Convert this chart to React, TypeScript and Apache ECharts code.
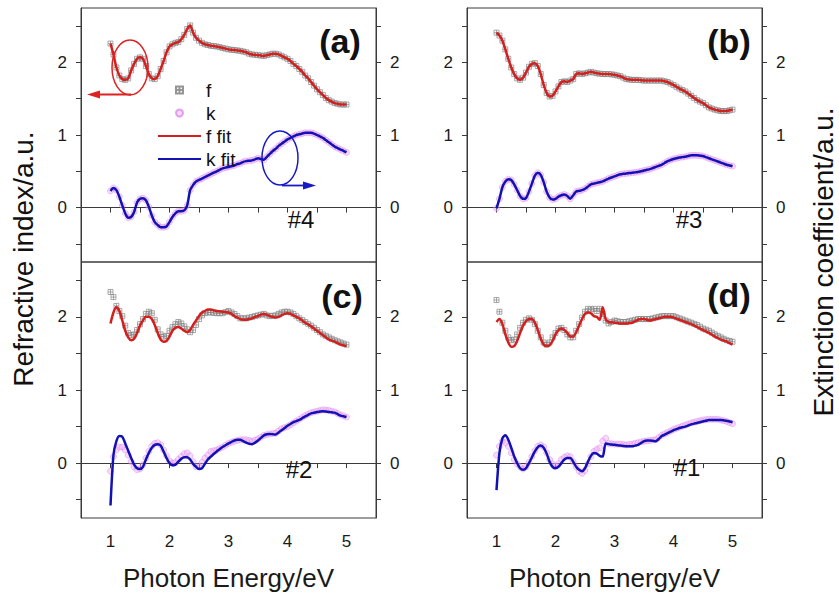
import React, { useEffect, useRef } from "react";
import * as echarts from "echarts";

// Photon energy (eV) sampling of every measured / fitted curve
const energy = [
  1.0, 1.05, 1.1, 1.15, 1.2, 1.25, 1.3, 1.35, 1.4, 1.45, 1.5, 1.55, 1.6, 1.65, 1.7, 1.75, 1.8, 1.85, 1.9, 1.95,
  2.0, 2.05, 2.1, 2.15, 2.2, 2.25, 2.3, 2.35, 2.4, 2.45, 2.5, 2.55, 2.6, 2.65, 2.7, 2.75, 2.8, 2.85, 2.9, 2.95,
  3.0, 3.05, 3.1, 3.15, 3.2, 3.25, 3.3, 3.35, 3.4, 3.45, 3.5, 3.55, 3.6, 3.65, 3.7, 3.75, 3.8, 3.85, 3.9, 3.95,
  4.0, 4.05, 4.1, 4.15, 4.2, 4.25, 4.3, 4.35, 4.4, 4.45, 4.5, 4.55, 4.6, 4.65, 4.7, 4.75, 4.8, 4.85, 4.9, 4.95, 5.0,
];

// (a) sample #4
const fA = [
  2.26, 2.11, 1.93, 1.82, 1.77, 1.76, 1.78, 1.89, 1.98, 2.05, 2.07, 2.05, 1.95, 1.84, 1.78, 1.77, 1.81, 1.91, 2.02, 2.14,
  2.22, 2.25, 2.27, 2.28, 2.32, 2.38, 2.46, 2.51, 2.41, 2.34, 2.3, 2.27, 2.25, 2.24, 2.23, 2.225, 2.22, 2.21, 2.2, 2.19,
  2.18, 2.175, 2.17, 2.165, 2.16, 2.15, 2.14, 2.12, 2.11, 2.105, 2.1, 2.095, 2.09, 2.1, 2.11, 2.12, 2.12, 2.11, 2.09, 2.07,
  2.05, 2.02, 1.98, 1.95, 1.91, 1.87, 1.82, 1.78, 1.73, 1.68, 1.63, 1.59, 1.55, 1.51, 1.48, 1.46, 1.44, 1.43, 1.42, 1.42, 1.42,
];
const kA = [
  0.23, 0.27, 0.24, 0.15, 0.03, -0.08, -0.14, -0.13, -0.06, 0.07, 0.12, 0.13, 0.1, 0.01, -0.11, -0.2, -0.24, -0.27, -0.27, -0.26,
  -0.2, -0.13, -0.08, -0.05, -0.05, -0.04, 0.03, 0.24, 0.31, 0.36, 0.38, 0.4, 0.42, 0.44, 0.46, 0.48, 0.5, 0.52, 0.54, 0.55,
  0.56, 0.57, 0.58, 0.6, 0.61, 0.63, 0.64, 0.645, 0.65, 0.665, 0.68, 0.67, 0.66, 0.7, 0.74, 0.78, 0.81, 0.85, 0.88, 0.91,
  0.94, 0.96, 0.98, 1.0, 1.01, 1.02, 1.03, 1.03, 1.03, 1.02, 1.0, 0.98, 0.96, 0.93, 0.9, 0.87, 0.84, 0.82, 0.8, 0.78, 0.76,
];
const fFitA = fA;
const kFitA = kA;

// (b) sample #3
const fB = [
  2.41, 2.37, 2.3, 2.18, 2.05, 1.93, 1.84, 1.78, 1.76, 1.79, 1.86, 1.94, 1.98, 1.99, 1.95, 1.84, 1.69, 1.58, 1.53, 1.54,
  1.6, 1.67, 1.73, 1.74, 1.73, 1.75, 1.77, 1.84, 1.85, 1.84, 1.85, 1.86, 1.87, 1.86, 1.85, 1.845, 1.84, 1.84, 1.84, 1.835,
  1.83, 1.82, 1.81, 1.79, 1.77, 1.765, 1.76, 1.76, 1.76, 1.755, 1.75, 1.75, 1.75, 1.75, 1.75, 1.75, 1.75, 1.74, 1.73, 1.71,
  1.69, 1.665, 1.64, 1.62, 1.6, 1.57, 1.54, 1.51, 1.48, 1.46, 1.44, 1.41, 1.38, 1.365, 1.35, 1.34, 1.33, 1.33, 1.33, 1.34, 1.35,
];
const kB = [
  -0.01, 0.12, 0.28, 0.36, 0.39, 0.38, 0.32, 0.24, 0.16, 0.12, 0.13, 0.22, 0.33, 0.44, 0.48, 0.45, 0.35, 0.22, 0.14, 0.11,
  0.12, 0.15, 0.17, 0.18, 0.16, 0.12, 0.17, 0.22, 0.23, 0.24, 0.26, 0.29, 0.32, 0.33, 0.34, 0.35, 0.36, 0.38, 0.4, 0.415,
  0.43, 0.445, 0.46, 0.465, 0.47, 0.475, 0.48, 0.485, 0.49, 0.5, 0.51, 0.52, 0.53, 0.545, 0.56, 0.575, 0.59, 0.615, 0.64, 0.655,
  0.67, 0.68, 0.69, 0.695, 0.7, 0.71, 0.72, 0.72, 0.72, 0.715, 0.71, 0.695, 0.68, 0.665, 0.65, 0.635, 0.62, 0.605, 0.59, 0.58, 0.57,
];
const fFitB = fB;
const kFitB = kB;

// (c) sample #2
const fC = [
  2.34, 2.27, 2.15, 2.08, 2.01, 1.88, 1.78, 1.75, 1.76, 1.82, 1.9, 1.97, 2.04, 2.07, 2.05, 1.96, 1.83, 1.76, 1.73, 1.74,
  1.81, 1.86, 1.9, 1.93, 1.91, 1.87, 1.83, 1.79, 1.82, 1.89, 1.97, 2.02, 2.05, 2.06, 2.06, 2.055, 2.05, 2.05, 2.05, 2.065,
  2.08, 2.06, 2.04, 2.01, 1.98, 1.98, 1.98, 1.99, 2.0, 2.01, 2.02, 2.03, 2.04, 2.02, 2.01, 2.015, 2.02, 2.04, 2.06, 2.07,
  2.07, 2.06, 2.04, 2.01, 1.98, 1.955, 1.93, 1.905, 1.88, 1.85, 1.82, 1.79, 1.76, 1.74, 1.72, 1.7, 1.68, 1.665, 1.65, 1.635, 1.62,
];
const kC = [
  -0.11, 0.09, 0.18, 0.22, 0.22, 0.18, 0.11, 0.02, -0.05, -0.09, -0.08, -0.02, 0.07, 0.16, 0.23, 0.27, 0.28, 0.25, 0.18, 0.1,
  0.03, 0.0, 0.01, 0.05, 0.09, 0.13, 0.14, 0.1, 0.02, -0.05, -0.05, 0.01, 0.07, 0.11, 0.16, 0.17, 0.18, 0.2, 0.22, 0.245,
  0.27, 0.285, 0.3, 0.31, 0.32, 0.32, 0.32, 0.31, 0.3, 0.315, 0.33, 0.355, 0.38, 0.39, 0.4, 0.405, 0.41, 0.44, 0.47, 0.485,
  0.5, 0.525, 0.55, 0.575, 0.6, 0.625, 0.65, 0.67, 0.69, 0.7, 0.71, 0.72, 0.73, 0.725, 0.72, 0.71, 0.7, 0.68, 0.66, 0.645, 0.63,
];
const fFitC = [
  1.91, 2.06, 2.13, 2.08, 1.95, 1.81, 1.72, 1.68, 1.7, 1.78, 1.88, 1.95, 2.0, 2.0, 1.97, 1.89, 1.78, 1.69, 1.66, 1.67,
  1.73, 1.81, 1.85, 1.86, 1.84, 1.81, 1.79, 1.82, 1.89, 1.95, 2.01, 2.06, 2.08, 2.1, 2.1, 2.09, 2.08, 2.075, 2.07, 2.065,
  2.06, 2.04, 2.01, 1.99, 1.97, 1.96, 1.96, 1.97, 1.98, 2.0, 2.01, 2.03, 2.04, 2.03, 2.01, 2.0, 1.99, 2.0, 2.02, 2.04,
  2.05, 2.04, 2.02, 2.0, 1.98, 1.95, 1.92, 1.895, 1.87, 1.84, 1.81, 1.78, 1.75, 1.72, 1.69, 1.675, 1.66, 1.64, 1.62, 1.61, 1.6,
];
const kFitC = [
  -0.58, 0.11, 0.3, 0.37, 0.36, 0.27, 0.17, 0.07, -0.02, -0.07, -0.08, -0.05, 0.05, 0.14, 0.21, 0.25, 0.26, 0.24, 0.16, 0.07,
  0.0, -0.03, -0.02, 0.02, 0.06, 0.08, 0.08, 0.05, -0.01, -0.05, -0.08, -0.07, -0.01, 0.05, 0.09, 0.125, 0.16, 0.19, 0.22, 0.245,
  0.27, 0.29, 0.31, 0.32, 0.32, 0.3, 0.28, 0.265, 0.26, 0.28, 0.31, 0.345, 0.38, 0.395, 0.4, 0.395, 0.39, 0.42, 0.45, 0.48,
  0.51, 0.535, 0.56, 0.575, 0.59, 0.615, 0.64, 0.66, 0.68, 0.69, 0.7, 0.705, 0.71, 0.705, 0.7, 0.695, 0.69, 0.67, 0.65, 0.64, 0.63,
];

// (d) sample #1
const fD = [
  2.23, 2.07, 1.92, 1.81, 1.72, 1.68, 1.69, 1.76, 1.85, 1.92, 1.96, 1.98, 1.96, 1.9, 1.81, 1.72, 1.65, 1.62, 1.65, 1.72,
  1.78, 1.84, 1.85, 1.82, 1.76, 1.72, 1.72, 1.81, 1.9, 1.99, 2.07, 2.11, 2.1, 2.11, 2.08, 2.11, 2.04, 1.95, 1.91, 1.93,
  1.95, 1.94, 1.93, 1.93, 1.93, 1.94, 1.95, 1.96, 1.97, 1.97, 1.97, 1.97, 1.97, 1.98, 1.99, 2.0, 2.01, 2.01, 2.01, 2.01,
  2.01, 1.995, 1.98, 1.965, 1.95, 1.935, 1.92, 1.905, 1.89, 1.865, 1.84, 1.825, 1.81, 1.785, 1.76, 1.74, 1.72, 1.7, 1.68, 1.67, 1.66,
];
const kD = [
  0.11, 0.23, 0.3, 0.28, 0.23, 0.14, 0.05, -0.01, -0.05, -0.08, -0.05, 0.01, 0.09, 0.17, 0.23, 0.25, 0.22, 0.14, 0.05, -0.01,
  -0.04, -0.01, 0.05, 0.08, 0.1, 0.09, 0.02, -0.05, -0.11, -0.14, -0.1, -0.01, 0.09, 0.16, 0.19, 0.21, 0.3, 0.34, 0.27, 0.265,
  0.26, 0.26, 0.26, 0.255, 0.25, 0.255, 0.26, 0.27, 0.28, 0.29, 0.3, 0.305, 0.31, 0.315, 0.32, 0.35, 0.38, 0.4, 0.42, 0.44,
  0.46, 0.475, 0.49, 0.505, 0.52, 0.535, 0.55, 0.56, 0.57, 0.58, 0.59, 0.595, 0.6, 0.6, 0.6, 0.6, 0.59, 0.58, 0.57, 0.555, 0.54,
];
const fFitD = [
  1.93, 1.97, 1.9, 1.76, 1.65, 1.59, 1.6, 1.67, 1.78, 1.88, 1.94, 1.97, 1.97, 1.92, 1.82, 1.7, 1.62, 1.6, 1.61, 1.67,
  1.76, 1.82, 1.84, 1.82, 1.78, 1.73, 1.73, 1.79, 1.88, 1.97, 2.04, 2.06, 2.05, 2.01, 2.0, 1.96, 2.13, 1.97, 1.93, 1.925,
  1.92, 1.915, 1.91, 1.91, 1.91, 1.915, 1.92, 1.94, 1.96, 1.97, 1.97, 1.96, 1.95, 1.96, 1.97, 1.98, 1.99, 2.0, 2.0, 2.0,
  1.99, 1.975, 1.96, 1.945, 1.93, 1.915, 1.9, 1.88, 1.86, 1.84, 1.82, 1.8, 1.78, 1.755, 1.73, 1.71, 1.69, 1.675, 1.66, 1.64, 1.62,
];
const kFitD = [
  -0.37, 0.14, 0.34, 0.38, 0.32, 0.21, 0.09, 0.0, -0.07, -0.09, -0.07, 0.0, 0.08, 0.16, 0.22, 0.24, 0.21, 0.13, 0.02, -0.05,
  -0.07, -0.05, 0.0, 0.05, 0.07, 0.07, 0.02, -0.05, -0.09, -0.11, -0.07, 0.02, 0.1, 0.14, 0.13, 0.1, 0.09, 0.27, 0.26, 0.255,
  0.25, 0.245, 0.24, 0.235, 0.23, 0.23, 0.23, 0.24, 0.25, 0.275, 0.3, 0.31, 0.31, 0.305, 0.3, 0.33, 0.37, 0.39, 0.41, 0.43,
  0.45, 0.465, 0.48, 0.49, 0.5, 0.515, 0.53, 0.54, 0.55, 0.56, 0.57, 0.58, 0.59, 0.59, 0.59, 0.59, 0.59, 0.585, 0.58, 0.57, 0.56,
];

const xTicks = { min: 0.5, max: 5.5, step: 0.5 };
const yTickValues = [-0.5, 0, 0.5, 1, 1.5, 2, 2.5];
const yLabelValues = [0, 1, 2];
const yRange = { min: -0.75, max: 2.75 };

const FONT = "'Liberation Sans', Arial, Helvetica, sans-serif";
const RED = "#d41f1f";
const BLUE = "#1212b4";
const AXIS = "#3a3a3a";

const panels = [
  { left: 81, top: 8, width: 295, height: 254, bottom: false, f: fA, k: kA, fFit: fFitA, kFit: kFitA },
  { left: 467, top: 8, width: 295, height: 254, bottom: false, f: fB, k: kB, fFit: fFitB, kFit: kFitB },
  { left: 81, top: 262, width: 295, height: 256, bottom: true, f: fC, k: kC, fFit: fFitC, kFit: kFitC },
  { left: 467, top: 262, width: 295, height: 256, bottom: true, f: fD, k: kD, fFit: fFitD, kFit: kFitD },
];

const pairs = (ys: number[]) => energy.map((x, i) => [x, ys[i]]);

function buildOption() {
  const grid = panels.map((p) => ({
    left: p.left,
    top: p.top,
    width: p.width,
    height: p.height,
    show: true,
    borderColor: AXIS,
    borderWidth: 1,
    backgroundColor: "transparent",
  }));

  const xAxis = panels.map((p, i) => ({
    type: "value",
    gridIndex: i,
    min: xTicks.min,
    max: xTicks.max,
    interval: xTicks.step,
    axisLine: { show: true, lineStyle: { color: AXIS, width: 1 } },
    axisTick: { show: true, inside: false, length: 5, lineStyle: { color: AXIS } },
    axisLabel: {
      show: p.bottom,
      formatter: (v: number) => (Number.isInteger(v) && v >= 1 && v <= 5 ? String(v) : ""),
      fontSize: 17,
      fontFamily: FONT,
      color: "#1a1a1a",
      margin: 15,
    },
    splitLine: { show: false },
    name: p.bottom ? "Photon Energy/eV" : "",
    nameLocation: "middle",
    nameGap: 47,
    nameTextStyle: { fontSize: 26, fontFamily: FONT, color: "#1a1a1a" },
  }));

  const yAxis: any[] = [];
  panels.forEach((p, i) => {
    ["left", "right"].forEach((pos) => {
      yAxis.push({
        type: "value",
        gridIndex: i,
        position: pos,
        min: yRange.min,
        max: yRange.max,
        axisLine: { show: true, onZero: false, lineStyle: { color: AXIS, width: 1 } },
        axisTick: { show: true, inside: false, length: 5, customValues: yTickValues, lineStyle: { color: AXIS } },
        axisLabel: {
          show: true,
          customValues: yLabelValues,
          fontSize: 17,
          fontFamily: FONT,
          color: "#1a1a1a",
          margin: 14,
        },
        splitLine: { show: false },
      });
    });
  });

  const series: any[] = [];
  panels.forEach((p, i) => {
    series.push({
      name: "f",
      type: "scatter",
      xAxisIndex: i,
      yAxisIndex: 2 * i,
      data: pairs(p.f),
      symbol: "path://M0,0H10V10H0Z M5,0V10 M0,5H10",
      symbolSize: 5,
      itemStyle: { color: "rgba(255,255,255,0)", borderColor: "#7a7a7a", borderWidth: 0.8 },
      z: 2,
    });
    series.push({
      name: "k",
      type: "scatter",
      xAxisIndex: i,
      yAxisIndex: 2 * i,
      data: pairs(p.k),
      symbol: "circle",
      symbolSize: 6,
      itemStyle: { color: "rgba(236,170,246,0.55)", borderColor: "rgba(214,120,232,0.85)", borderWidth: 0.6 },
      z: 2,
    });
    series.push({
      name: "f fit",
      type: "line",
      xAxisIndex: i,
      yAxisIndex: 2 * i,
      data: pairs(p.fFit),
      symbol: "none",
      showSymbol: false,
      smooth: 0.25,
      lineStyle: { color: RED, width: 2.5 },
      itemStyle: { color: RED },
      z: 3,
    });
    series.push({
      name: "k fit",
      type: "line",
      xAxisIndex: i,
      yAxisIndex: 2 * i,
      data: pairs(p.kFit),
      symbol: "none",
      showSymbol: false,
      smooth: 0.25,
      lineStyle: { color: BLUE, width: 2.5 },
      itemStyle: { color: BLUE },
      z: 3,
    });
  });

  const txt = (text: string, x: number, y: number, size: number, bold = false, rotation = 0) => ({
    type: "text",
    x,
    y,
    rotation,
    z: 10,
    style: {
      text,
      fontSize: size,
      fontWeight: bold ? "bold" : "normal",
      fontFamily: FONT,
      fill: "#111",
      align: "center",
      verticalAlign: "middle",
    },
  });

  const graphic = [
    txt("Refractive index/a.u.", 23, 259, 28, false, Math.PI / 2),
    txt("Extinction coefficient/a.u.", 823, 262, 28, false, Math.PI / 2),
    txt("(a)", 340, 41, 34, true),
    txt("(b)", 729, 41, 34, true),
    txt("(c)", 342, 296, 34, true),
    txt("(d)", 729, 295, 34, true),
    txt("#4", 301, 219, 24),
    txt("#3", 689, 219, 24),
    txt("#2", 299, 469, 24),
    txt("#1", 687, 467, 24),
    {
      type: "ellipse",
      z: 10,
      shape: { cx: 130, cy: 67.5, rx: 18, ry: 27.5 },
      style: { fill: "none", stroke: "#dd2222", lineWidth: 1.5 },
    },
    {
      type: "line",
      z: 10,
      shape: { x1: 131, y1: 94.5, x2: 98, y2: 94.5 },
      style: { stroke: "#dd2222", lineWidth: 1.8 },
    },
    {
      type: "polygon",
      z: 10,
      shape: { points: [[87, 94.5], [100, 90.5], [100, 98.5]] },
      style: { fill: "#dd2222" },
    },
    {
      type: "ellipse",
      z: 10,
      shape: { cx: 280, cy: 158, rx: 18, ry: 27 },
      style: { fill: "none", stroke: "#1a1ac4", lineWidth: 1.5 },
    },
    {
      type: "line",
      z: 10,
      shape: { x1: 282, y1: 185.5, x2: 305, y2: 185.5 },
      style: { stroke: "#1a1ac4", lineWidth: 1.8 },
    },
    {
      type: "polygon",
      z: 10,
      shape: { points: [[316, 185.5], [303, 181.5], [303, 189.5]] },
      style: { fill: "#1a1ac4" },
    },
  ];

  return {
    animation: false,
    backgroundColor: "#ffffff",
    textStyle: { fontFamily: FONT },
    grid,
    xAxis,
    yAxis,
    series,
    legend: {
      data: [
        { name: "f" },
        { name: "k" },
        { name: "f fit", itemStyle: { opacity: 0 } },
        { name: "k fit", itemStyle: { opacity: 0 } },
      ],
      orient: "vertical",
      left: 157,
      top: 80,
      padding: 0,
      itemWidth: 43,
      itemHeight: 7,
      itemGap: 3,
      selectedMode: false,
      textStyle: { fontSize: 19, fontFamily: FONT, color: "#111", lineHeight: 20 },
    },
    graphic,
  };
}

export default function App() {
  const ref = useRef<HTMLDivElement | null>(null);
  useEffect(() => {
    if (!ref.current) return;
    const chart = echarts.init(ref.current, undefined, { renderer: "svg" });
    chart.setOption(buildOption() as any);
    return () => chart.dispose();
  }, []);
  return (
    <div
      ref={ref}
      style={{ position: "fixed", left: 0, top: 0, width: 839, height: 601, background: "#fff" }}
    />
  );
}
